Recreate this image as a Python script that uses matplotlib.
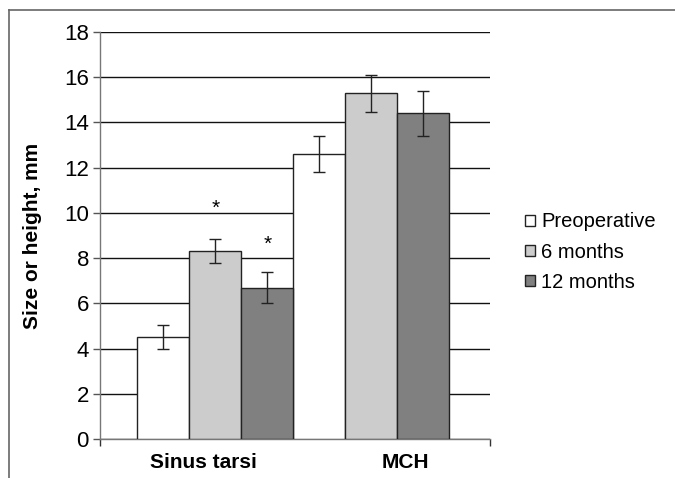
import numpy as np
import matplotlib.pyplot as plt
from matplotlib.lines import Line2D

plt.rcParams['font.family'] = ['Liberation Sans', 'DejaVu Sans']

categories = ['Sinus tarsi', 'MCH']
series = ['Preoperative', '6 months', '12 months']
means = {
    'Preoperative': [4.5, 12.6],
    '6 months': [8.3, 15.3],
    '12 months': [6.7, 14.4],
}
errors = {
    'Preoperative': [0.52, 0.79],
    '6 months': [0.53, 0.82],
    '12 months': [0.68, 1.0],
}
colors = ['#ffffff', '#cccccc', '#808080']
stars = [('6 months', 0, 10.2), ('12 months', 0, 8.6)]

fig = plt.figure(figsize=(6.75, 4.78), dpi=100)
ax = fig.add_axes([100 / 675, 1 - 439 / 478, 390 / 675, 407 / 478])

w = 1 / 3
x = np.arange(len(categories))
for i, s in enumerate(series):
    pos = x + (i - 1) * w
    ax.bar(pos, means[s], width=w, color=colors[i], edgecolor='#222222',
           linewidth=1, zorder=3, label=s)
    ax.errorbar(pos, means[s], yerr=errors[s], fmt='none', ecolor='#222222',
                elinewidth=1, capsize=4, capthick=1, zorder=4)

for s, ci, y in stars:
    i = series.index(s)
    ax.text(x[ci] + (i - 1) * w, y, '*', ha='center', va='center',
            fontsize=15)

ax.set_ylim(0, 18)
ax.set_yticks(range(0, 19, 2))
ax.set_xlim(-0.74, 1.76)
ax.yaxis.grid(True, color='#111111', linewidth=1)
ax.set_axisbelow(True)

for sp in ['top', 'right']:
    ax.spines[sp].set_visible(False)
for sp in ['left', 'bottom']:
    ax.spines[sp].set_color('#777777')
    ax.spines[sp].set_linewidth(1)

ax.tick_params(axis='y', direction='out', length=5, width=1, color='#555555',
               labelsize=16, pad=3)
ax.set_xticks([-0.074, 1.22])
ax.set_xticklabels(categories, fontsize=15, fontweight='bold')
ax.tick_params(axis='x', length=0, pad=10)
ax.set_xticks([-0.74, 1.76], minor=True)
ax.tick_params(axis='x', which='minor', direction='out', length=5, width=1,
               color='#333333')

ax.set_ylabel('Size or height, mm', fontsize=15, fontweight='bold')
ax.yaxis.set_label_coords(-0.149, 0.5)

ax.legend(loc='center left', bbox_to_anchor=(525 / 675, 1 - 252 / 478),
          bbox_transform=fig.transFigure, frameon=False, fontsize=14.5,
          handlelength=0.5, handleheight=0.5, handletextpad=0.3,
          labelspacing=0.55, borderaxespad=0, borderpad=0)

fig.add_artist(Line2D([8.5 / 675, 8.5 / 675], [0, 1 - 9.5 / 478],
                      transform=fig.transFigure, color='#666666', lw=1.2))
fig.add_artist(Line2D([8.5 / 675, 1], [1 - 9.5 / 478, 1 - 9.5 / 478],
                      transform=fig.transFigure, color='#666666', lw=1.2))

fig.savefig('out.png', dpi=100)
